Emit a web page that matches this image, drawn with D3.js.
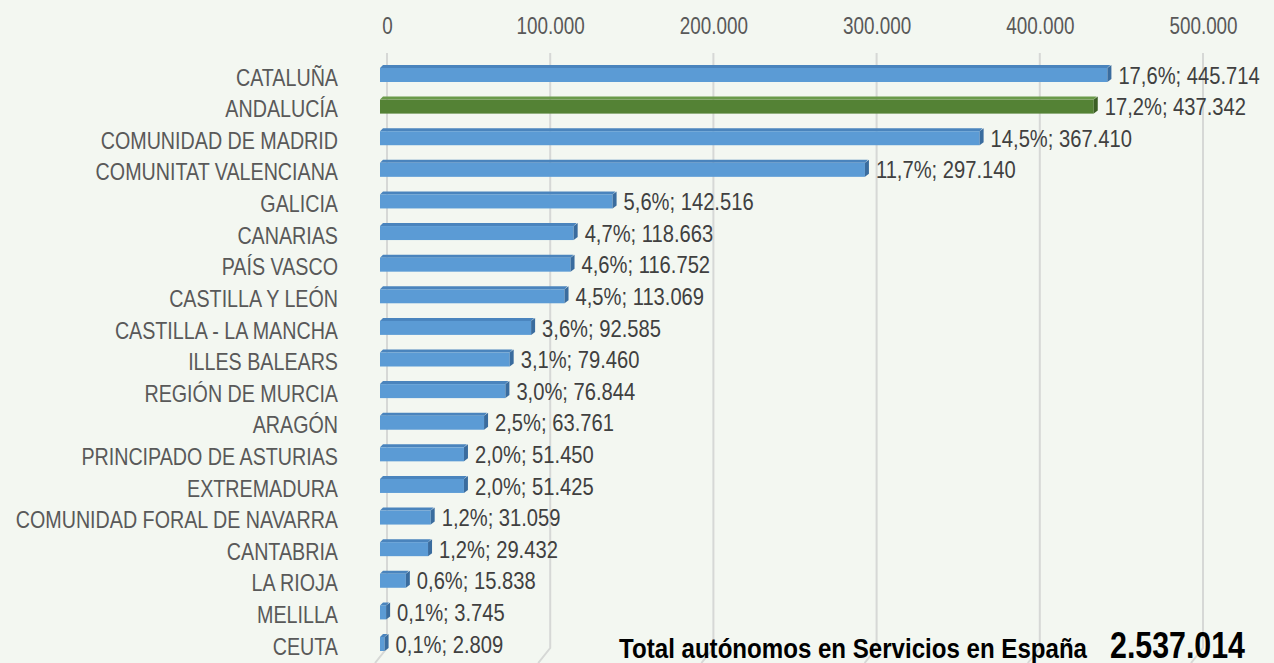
<!DOCTYPE html>
<html lang="es">
<head>
<meta charset="UTF-8">
<script src="https://cdn.jsdelivr.net/npm/d3@7/dist/d3.min.js"></script>
<style>
    body { margin: 0; background: #f3f7f1; }
    svg { display: block; }
    text { font-family: "Liberation Sans", Arial, sans-serif; }
    .cat { fill: #595959; font-size: 24px; }
    .tick-lbl { fill: #595959; font-size: 23px; }
    .val { fill: #404040; font-size: 24px; }
    .total { fill: #000; font-weight: bold; }
</style>
</head>
<body>
<svg width="1274" height="663"></svg>
<script>
// data
var regions = ["CATALUÑA", "ANDALUCÍA", "COMUNIDAD DE MADRID", "COMUNITAT VALENCIANA", "GALICIA",
    "CANARIAS", "PAÍS VASCO", "CASTILLA Y LEÓN", "CASTILLA - LA MANCHA", "ILLES BALEARS",
    "REGIÓN DE MURCIA", "ARAGÓN", "PRINCIPADO DE ASTURIAS", "EXTREMADURA",
    "COMUNIDAD FORAL DE NAVARRA", "CANTABRIA", "LA RIOJA", "MELILLA", "CEUTA"];
var autonomos = [445714, 437342, 367410, 297140, 142516, 118663, 116752, 113069, 92585, 79460,
    76844, 63761, 51450, 51425, 31059, 29432, 15838, 3745, 2809];
var shares = [17.6, 17.2, 14.5, 11.7, 5.6, 4.7, 4.6, 4.5, 3.6, 3.1, 3.0, 2.5, 2.0, 2.0, 1.2, 1.2, 0.6, 0.1, 0.1];
var highlighted = ["ANDALUCÍA"];
var xTicks = [0, 100000, 200000, 300000, 400000, 500000];
var totalLabel = "Total autónomos en Servicios en España";
var totalValue = 2537014;

var es = d3.formatLocale({decimal: ",", thousands: ".", grouping: [3], currency: ["", " €"]});
var fmtInt = es.format(",d"), fmtPct = es.format(".1f");

// no narrow font installed, so squeeze a normal one like Arial Narrow
function narrow(sel, k) {
    k = k || 0.82;
    sel.each(function() {
        var w = this.getComputedTextLength();
        this.setAttribute("textLength", w * k);
        this.setAttribute("lengthAdjust", "spacingAndGlyphs");
    });
}

var svg = d3.select("svg");

var x = d3.scaleLinear().domain([0, 500000]).range([387, 1203]);
var y = d3.scalePoint().domain(regions).range([75, 644]);

var shift = -7;   // front plane of bars sits a bit left of back wall
var barH = 14, depth = 3;

// gridlines (back wall + floor slant)
svg.append("g").selectAll("path")
    .data(xTicks)
    .join("path")
    .attr("d", function(d) {
        var gx = x(d);
        return "M" + gx + ",53 L" + gx + ",648 L" + (gx - 12) + ",663";
    })
    .attr("fill", "none")
    .attr("stroke", "#d6d8d6")
    .attr("stroke-width", 2);

// top axis labels
var xAxis = d3.axisTop(x).tickValues(xTicks).tickFormat(fmtInt).tickSize(0);
var ax = svg.append("g").attr("transform", "translate(0,37)").call(xAxis);
ax.select(".domain").remove();
ax.selectAll("text").attr("class", "tick-lbl").attr("font-size", null).attr("font-family", null).attr("fill", null)
    .call(narrow);

var data = regions.map(function(r, i) {
    return {region: r, value: autonomos[i], pct: shares[i]};
});

var bars = svg.append("g").selectAll("g")
    .data(data)
    .join("g")
    .attr("transform", function(d) { return "translate(0," + (y(d.region) - barH / 2) + ")"; });

function cols(d) {
    return highlighted.indexOf(d.region) >= 0
        ? {front: "#548235", top: "#6a9a4a", side: "#3b5e24"}
        : {front: "#5b9bd5", top: "#4a84bd", side: "#3a6c9e"};
}

// top face
bars.append("path")
    .attr("d", function(d) {
        var x0 = x(0) + shift, x1 = x(d.value) + shift;
        return "M" + x0 + ",0 L" + (x0 + depth) + "," + (-depth) + " L" + (x1 + depth) + "," + (-depth) + " L" + x1 + ",0Z";
    })
    .attr("fill", function(d) { return cols(d).top; });

// front face
bars.append("rect")
    .attr("x", x(0) + shift)
    .attr("y", 0)
    .attr("width", function(d) { return x(d.value) - x(0); })
    .attr("height", barH)
    .attr("fill", function(d) { return cols(d).front; });

// right end face
bars.append("path")
    .attr("d", function(d) {
        var x1 = x(d.value) + shift;
        return "M" + x1 + ",0 L" + (x1 + depth + 1) + "," + (-depth) + " L" + (x1 + depth + 1) + "," + (barH - depth) + " L" + x1 + "," + barH + "Z";
    })
    .attr("fill", function(d) { return cols(d).side; });

// value labels
bars.append("text")
    .attr("class", "val")
    .attr("x", function(d) { return x(d.value) + shift + 11; })
    .attr("y", barH / 2)
    .attr("dy", "0.36em")
    .text(function(d) { return fmtPct(d.pct) + "%; " + fmtInt(d.value); })
    .call(narrow, 0.84);

// category labels
svg.append("g").selectAll("text")
    .data(regions)
    .join("text")
    .attr("class", "cat")
    .attr("x", 338)
    .attr("y", function(d) { return y(d) + 2; })
    .attr("dy", "0.36em")
    .attr("text-anchor", "end")
    .text(function(d) { return d; })
    .call(narrow);

// total note
svg.append("text")
    .attr("class", "total")
    .attr("x", 1087)
    .attr("y", 658)
    .attr("text-anchor", "end")
    .attr("font-size", 28)
    .text(totalLabel)
    .call(narrow, 0.86);
svg.append("text")
    .attr("class", "total")
    .attr("x", 1245)
    .attr("y", 658)
    .attr("text-anchor", "end")
    .attr("font-size", 37)
    .text(fmtInt(totalValue))
    .call(narrow);
</script>
</body>
</html>
